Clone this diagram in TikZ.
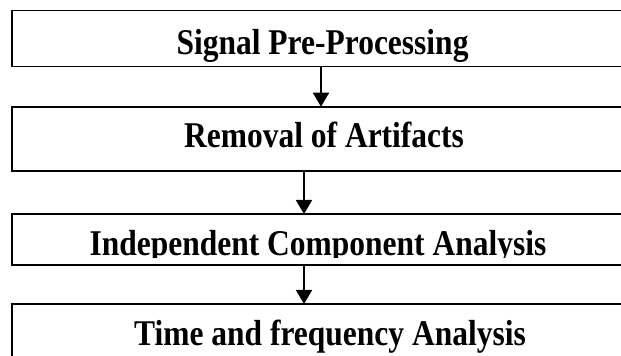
\documentclass[tikz,border=0pt]{standalone}
\usepackage{fontspec}
\setmainfont{Liberation Serif}
\usetikzlibrary{arrows.meta}
\newcommand{\vstretch}[1]{\scalebox{1}[1.15]{#1}}
\begin{document}
\begin{tikzpicture}[x=1pt,y=1pt,
  stagebox/.style={draw=black,line width=1.8pt,rectangle,outer sep=0pt,inner sep=0pt,minimum width=628pt},
  stagetext/.style={anchor=base,inner sep=0pt,font=\bfseries\fontsize{31.5}{36}\selectfont},
  flow/.style={line width=1.8pt,-{Triangle[length=14pt,width=16pt]}}]
\useasboundingbox (0,0) rectangle (621,356);
\clip (0,0) rectangle (621,356);
\node[stagebox,minimum height=56pt] (b1) at (326,317.5) {};
\node[stagebox,minimum height=64.3pt] (b2) at (326,217.15) {};
\node[stagebox,minimum height=51pt] (b3) at (326,116.5) {};
\node[stagebox,minimum height=72pt] (b4) at (326,16) {};
\node[stagetext] (t1) at (322.5,301) {\vstretch{Signal Pre-Processing}};
\node[stagetext] (t2) at (324,208) {\vstretch{Removal of Artifacts}};
\begin{scope}
\clip (0,98) rectangle (621,142);
\node[stagetext] (t3) at (318,100) {\vstretch{Independent Component Analysis}};
\end{scope}
\node[stagetext] (t4) at (330,11) {\vstretch{Time and frequency Analysis}};
\coordinate (a1) at (321,0);
\coordinate (a2) at (304,0);
\draw[flow] (b1.south -| a1) -- (b2.north -| a1);
\draw[flow] (b2.south -| a2) -- (b3.north -| a2);
\draw[flow] (b3.south -| a2) -- (b4.north -| a2);
\end{tikzpicture}
\end{document}
